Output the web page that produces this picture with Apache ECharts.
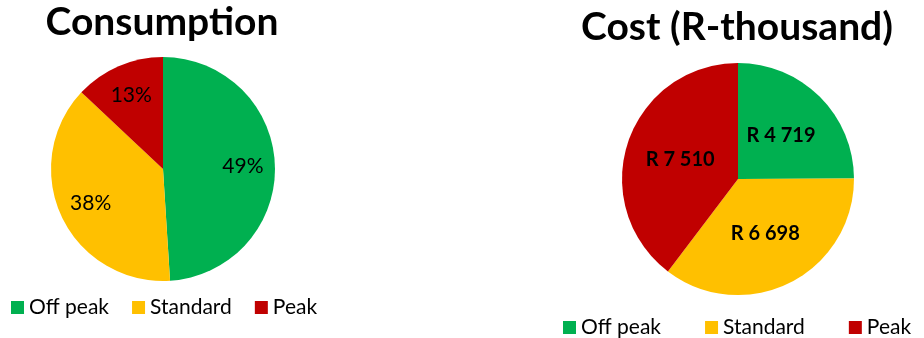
<!DOCTYPE html>
<html>
<head>
<meta charset="utf-8">
<script src="https://cdn.jsdelivr.net/npm/echarts@6/dist/echarts.min.js"></script>
<style>
  html, body { margin: 0; padding: 0; background: #ffffff; }
  #chart { width: 924px; height: 338px; }
</style>
</head>
<body>
<div id="chart"></div>
<script>
// Tariff periods shared by both pies
const periods = ['Off peak', 'Standard', 'Peak'];
const periodColors = ['#00B050', '#FFC000', '#C00000'];

// Share of energy consumption per period (%)
const consumptionShare = [49, 38, 13];

// Cost per period (R-thousand)
const costValues = [4719, 6698, 7510];

const FONT = 'Lato';

function toData(values) {
  return periods.map((name, i) => ({
    name: name,
    value: values[i],
    itemStyle: { color: periodColors[i] }
  }));
}

function formatRand(v) {
  return 'R ' + String(v).replace(/\B(?=(\d{3})+(?!\d))/g, ' ');
}

const chart = echarts.init(document.getElementById('chart'), null, { renderer: 'canvas' });

chart.setOption({
  animation: false,
  backgroundColor: '#ffffff',
  title: [
    {
      text: 'Consumption',
      left: 162, top: 3, padding: 0, textAlign: 'center',
      textStyle: { fontFamily: FONT, fontWeight: 'bold', fontSize: 39, color: '#000' }
    },
    {
      text: 'Cost (R-thousand)',
      left: 737, top: 8, padding: 0, textAlign: 'center',
      textStyle: { fontFamily: FONT, fontWeight: 'bold', fontSize: 39, color: '#000' }
    }
  ],
  legend: [
    {
      seriesIndex: 0,
      data: periods,
      left: 11, top: 297, padding: 0,
      icon: 'rect', itemWidth: 13, itemHeight: 13, itemGap: 23,
      textStyle: { fontFamily: FONT, fontSize: 21, color: '#000' },
      selectedMode: false
    },
    {
      data: periods,
      left: 563, top: 317, padding: 0,
      icon: 'rect', itemWidth: 13, itemHeight: 13, itemGap: 44,
      textStyle: { fontFamily: FONT, fontSize: 21, color: '#000' },
      selectedMode: false
    }
  ],
  series: [
    {
      name: 'Consumption',
      type: 'pie',
      center: [163, 169],
      radius: [0, 112],
      startAngle: 90,
      clockwise: true,
      label: { show: false },
      labelLine: { show: false },
      itemStyle: { borderWidth: 0 },
      emphasis: { disabled: true },
      data: toData(consumptionShare)
    },
    {
      name: 'Cost',
      type: 'pie',
      center: [738, 179],
      radius: [0, 116],
      startAngle: 90,
      clockwise: true,
      label: {
        show: true,
        position: 'inside',
        fontFamily: FONT,
        fontWeight: 'bold',
        fontSize: 20,
        color: '#000',
        formatter: p => formatRand(p.value)
      },
      labelLine: { show: false },
      itemStyle: { borderWidth: 0 },
      emphasis: { disabled: true },
      data: toData(costValues)
    },
    {
      // transparent ring carrying the percentage labels further out on the consumption pie
      name: 'Consumption labels',
      type: 'pie',
      center: [163, 169],
      radius: [42, 112],
      startAngle: 90,
      clockwise: true,
      silent: true,
      label: {
        show: true,
        position: 'inside',
        fontFamily: FONT,
        fontSize: 21,
        color: '#000',
        formatter: p => p.value + '%'
      },
      labelLine: { show: false },
      itemStyle: { color: 'rgba(0,0,0,0)', borderWidth: 0 },
      emphasis: { disabled: true },
      data: periods.map((name, i) => ({ name: name, value: consumptionShare[i] }))
    }
  ]
});
</script>
</body>
</html>
